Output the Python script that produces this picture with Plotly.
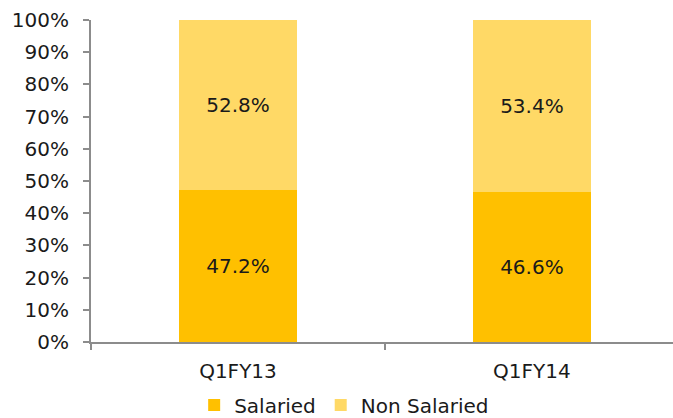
import plotly.graph_objects as go

categories = ["Q1FY13", "Q1FY14"]
salaried = [47.2, 46.6]
non_salaried = [52.8, 53.4]
y_ticks = list(range(0, 101, 10))
y_tick_labels = [f"{v}%" for v in y_ticks]

FONT = "DejaVu Sans"
AXIS = "#8c8c8c"
TXT = "#1a1a1a"
FS = 20

fig = go.Figure()
fig.add_trace(go.Bar(
    x=categories, y=salaried, name="Salaried",
    marker=dict(color="#FFC000", line=dict(width=0)),
    text=[f"{v:.1f}%" for v in salaried], textposition="inside",
    insidetextanchor="middle", textfont=dict(size=FS, color=TXT, family=FONT),
    width=0.4,
))
fig.add_trace(go.Bar(
    x=categories, y=non_salaried, name="Non Salaried",
    marker=dict(color="#FFD966", line=dict(width=0)),
    text=[f"{v:.1f}%" for v in non_salaried], textposition="inside",
    insidetextanchor="middle", textfont=dict(size=FS, color=TXT, family=FONT),
    width=0.4,
))

fig.update_layout(
    barmode="stack",
    width=673, height=418,
    margin=dict(l=91, r=0, t=20, b=76, autoexpand=False),
    paper_bgcolor="white", plot_bgcolor="white",
    font=dict(family=FONT, size=FS, color=TXT),
    showlegend=True,
    legend=dict(orientation="h", x=0.435, xanchor="center", y=-0.196, yanchor="middle",
                font=dict(size=FS, family=FONT), itemwidth=30, traceorder="normal"),
    uniformtext=dict(mode="show", minsize=10),
)
fig.update_xaxes(
    type="category", range=[-0.5, 1.48], automargin=False,
    showline=True, linecolor=AXIS, linewidth=2,
    ticks="outside", ticklen=6, tickcolor=AXIS, tickwidth=2, tickson="boundaries",
    ticklabelstandoff=10,
    showgrid=False, zeroline=False,
    tickfont=dict(size=FS, family=FONT),
)
fig.update_yaxes(
    range=[0, 100], tickvals=y_ticks, ticktext=y_tick_labels, automargin=False,
    showline=True, linecolor=AXIS, linewidth=2,
    ticks="outside", ticklen=6, tickcolor=AXIS, tickwidth=2,
    ticklabelstandoff=10,
    showgrid=False, zeroline=False,
    tickfont=dict(size=FS, family=FONT),
)

fig.write_html("out.html", config={"displayModeBar": False},
               post_script="document.body.style.margin='0px';document.body.style.overflow='hidden';")
